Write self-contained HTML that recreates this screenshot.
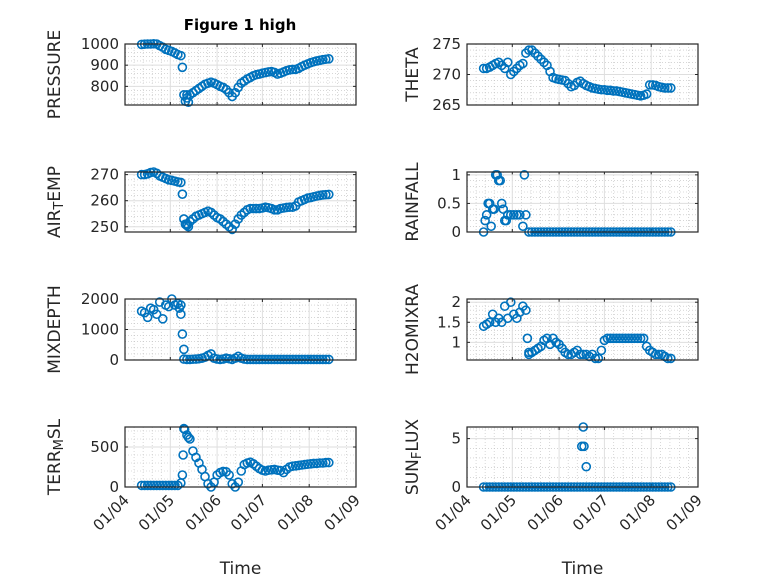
<!DOCTYPE html>
<html><head><meta charset="utf-8"><style>
html,body{margin:0;padding:0;background:#fff;}
svg{display:block;font-family:"DejaVu Sans","Liberation Sans",sans-serif;}
</style></head><body>
<svg id="fig" width="778" height="583" viewBox="0 0 778 583" xmlns="http://www.w3.org/2000/svg">
<rect width="778" height="583" fill="#fff"/>
<text x="240" y="30" text-anchor="middle" font-weight="bold" font-size="15" fill="#000">Figure 1 high</text>
</svg>
<script>
// shared sample days (days since 01/04)
const days = [11,13,15,17,19,21,23,25,27,29,31,33,35,37,39,41,43,45,47,49,51,53,55,57,59,61,63,65,67,69,71,73,75,77,79,81,83,85,87,89,91,93,95,97,99,101,103,105,107,109,111,113,115,117,119,121,123,125,127,129,131,133,135];
const xTickLabels = ["01/04","01/05","01/06","01/07","01/08","01/09"];
const xTickDays = [0,30,61,91,122,153];

const pressureVals = [998,999,1000,1000,1001,1000,992,985,975,970,965,958,950,945,760,745,760,770,780,790,800,810,815,820,815,808,800,795,785,770,752,770,795,815,825,835,842,850,855,858,862,865,868,870,866,858,862,868,874,878,880,880,885,893,900,906,912,916,920,923,926,928,930];
const pressureExtraDays = [38,40,41,42];
const pressureExtraVals = [890,730,760,725];

const thetaVals = [271,271,271.2,271.5,271.8,272,271.5,271,272,270,270.5,271,271.5,271.8,273.5,274,274,273.5,273,272.5,272,271.5,270.5,269.5,269.3,269.2,269.1,269,268.5,268,268.2,268.7,268.9,268.5,268.2,268,267.8,267.7,267.6,267.5,267.5,267.4,267.4,267.3,267.3,267.2,267.1,267,266.9,266.8,266.7,266.6,266.5,266.6,266.8,268.3,268.3,268.2,268,267.9,267.8,267.8,267.8];

const airTempVals = [270,270,270.3,270.8,271,270.5,269.5,269,268.5,268,267.8,267.5,267.2,267,253,251,252,253,254,254.5,255,255.5,256,255.5,254.5,253.5,253,252,251,250,249,251,253,254.5,255.5,256.5,257,257,257,257,257.2,257.5,257.3,257,256.5,256.5,257,257.2,257.4,257.5,257.5,258,259.5,260,260.5,261,261.2,261.5,261.8,262,262.2,262.3,262.4];
const airTempExtraDays = [38,40,41,42];
const airTempExtraVals = [262.5,251,250.5,250];

const rainVals = [0,0.3,0.5,0.4,1.0,0.9,0.5,0.2,0.3,0.3,0.3,0.3,0.3,0.1,0.3,0,0,0,0,0,0,0,0,0,0,0,0,0,0,0,0,0,0,0,0,0,0,0,0,0,0,0,0,0,0,0,0,0,0,0,0,0,0,0,0,0,0,0,0,0,0,0,0];
const rainExtraDays = [12,14,16,18,20,22,24,26,38];
const rainExtraVals = [0.2,0.5,0.1,0.4,1.0,0.9,0.4,0.2,1.0];

const mixVals = [1600,1550,1400,1700,1650,1500,1900,1350,1800,1750,2000,1800,1850,1500,30,20,20,25,30,40,60,90,150,200,60,30,20,30,60,40,20,60,120,60,30,20,20,20,20,20,20,20,20,20,20,20,20,20,20,20,20,20,20,20,20,20,20,20,20,20,20,20,20];
const mixExtraDays = [36,37,38,39];
const mixExtraVals = [1700,1800,850,350];

const h2oVals = [1.4,1.45,1.5,1.7,1.5,1.6,1.5,1.9,1.6,2.0,1.7,1.6,1.75,1.9,1.8,0.75,0.75,0.8,0.85,0.9,1.05,1.1,0.95,1.1,1.0,0.95,0.85,0.75,0.7,0.7,0.75,0.8,0.7,0.7,0.7,0.65,0.7,0.6,0.6,0.8,1.05,1.1,1.1,1.1,1.1,1.1,1.1,1.1,1.1,1.1,1.1,1.1,1.1,1.1,0.9,0.8,0.75,0.7,0.7,0.7,0.65,0.6,0.6];
const h2oExtraDays = [40,41];
const h2oExtraVals = [1.1,0.7];

const terrVals = [20,20,20,20,20,20,20,20,20,20,20,20,20,50,730,650,600,450,370,300,220,130,40,0,60,150,180,195,190,150,40,0,60,200,280,300,310,290,260,230,210,200,210,215,220,210,205,180,220,250,260,265,270,275,280,285,290,295,295,300,300,305,305];
const terrExtraDays = [38,38.5,39.5,42];
const terrExtraVals = [150,400,720,620];

const sunVals = [0,0,0,0,0,0,0,0,0,0,0,0,0,0,0,0,0,0,0,0,0,0,0,0,0,0,0,0,0,0,0,0,0,0,0,0,0,0,0,0,0,0,0,0,0,0,0,0,0,0,0,0,0,0,0,0,0,0,0,0,0,0,0];
const sunExtraDays = [76,77,77.5,79];
const sunExtraVals = [4.2,6.2,4.2,2.1];

const colX = [[125,356],[467,698]];
const rowY = [[44,105],[172,232],[299,360],[427,487]];
const NS = "http://www.w3.org/2000/svg";
const svg = document.getElementById('fig');

function mk(tag, attrs, parent){
  const e = document.createElementNS(NS, tag);
  for (const k in attrs) e.setAttribute(k, attrs[k]);
  (parent||svg).appendChild(e);
  return e;
}

function panel(name, col, row, yMin, yMax, yTicks, yTickLabels, labelParts, vals, exDays, exVals, showX){
  const [x0,x1] = colX[col], [y0,y1] = rowY[row];
  const xs = d => x0 + (d - xTickDays[0]) / (xTickDays[5]-xTickDays[0]) * (x1-x0);
  const ys = v => y1 - (v - yMin)/(yMax - yMin) * (y1-y0);
  const g = mk('g', {});
  
  
  for (let i=0;i<5;i++){
    const a = xTickDays[i], b = xTickDays[i+1];
    for (let k=1;k<5;k++){
      const X = xs(a + (b-a)*k/5);
      const l = mk('line',{x1:X,x2:X,y1:y0,y2:y1,stroke:'#bdbdbd','stroke-width':0.6,'stroke-dasharray':'1,2'},g);
      
      
    }
  }
  const step = yTicks[1]-yTicks[0];
  const ms = step/5;
  for (let v = yTicks[0] - step; v <= yMax; v += ms){
    if (v <= yMin || v >= yMax) continue;
    if (yTicks.some(t => Math.abs(t-v) < ms*0.1)) continue;
    const Y = ys(v);
    const l = mk('line',{x1:x0,x2:x1,y1:Y,y2:Y,stroke:'#bdbdbd','stroke-width':0.6,'stroke-dasharray':'1,2'},g);
    
    
  }
  xTickDays.forEach(d => {
    const X = xs(d);
    const l = mk('line',{x1:X,x2:X,y1:y0,y2:y1,stroke:'#dedede','stroke-width':1},g);
    
    
    const t1 = mk('line',{x1:X,x2:X,y1:y1,y2:y1-3,stroke:'#262626','stroke-width':1},g);
    
    
    const t2 = mk('line',{x1:X,x2:X,y1:y0,y2:y0+3,stroke:'#262626','stroke-width':1},g);
    
    
  });
  yTicks.forEach((v,i) => {
    const Y = ys(v);
    const l = mk('line',{x1:x0,x2:x1,y1:Y,y2:Y,stroke:'#dedede','stroke-width':1},g);
    
    
    const t1 = mk('line',{x1:x0,x2:x0+3,y1:Y,y2:Y,stroke:'#262626','stroke-width':1},g);
    
    
    const t2 = mk('line',{x1:x1,x2:x1-3,y1:Y,y2:Y,stroke:'#262626','stroke-width':1},g);
    
    
    const tx = mk('text',{x:x0-6,y:Y+5,'text-anchor':'end','font-size':15,fill:'#262626'},g);
    
    
    tx.textContent = yTickLabels[i];
  });
  const allD = days.concat(exDays), allV = vals.concat(exVals);
  allD.forEach((d,i) => {
    const c = mk('circle',{cx:xs(d),cy:ys(allV[i]),r:4,fill:'none',stroke:'#0072BD','stroke-width':1.6},g);
    
    
  });
  const bx = mk('rect',{x:x0,y:y0,width:x1-x0,height:y1-y0,fill:'none',stroke:'#262626','stroke-width':1.2},g);
  
  
  const lx = col===0 ? 60 : 418;
  const cy = (y0+y1)/2;
  const lab = mk('text',{x:0,y:0,'text-anchor':'middle','font-size':17,fill:'#262626',transform:`translate(${lx},${cy}) rotate(-90)`},g);
  
  
  labelParts.forEach(p => {
    const ts = mk('tspan',{},lab);
    if (p.sub){ ts.setAttribute('baseline-shift','-25%'); ts.setAttribute('font-size','13'); }
    ts.textContent = p.t;
  });
  if (showX){
    xTickDays.forEach((d,i) => {
      const X = xs(d);
      const tx = mk('text',{x:0,y:0,'text-anchor':'end','font-size':15,fill:'#262626',transform:`translate(${X+5},${y1+14}) rotate(-45)`},g);
      
      
      tx.textContent = xTickLabels[i];
    });
    const xl = mk('text',{x:(x0+x1)/2,y:574,'text-anchor':'middle','font-size':17,fill:'#262626'},g);
    
    
    xl.textContent = 'Time';
  }
}

panel('pressure',0,0,712,1000,[800,900,1000],['800','900','1000'],[{t:'PRESSURE'}],pressureVals,pressureExtraDays,pressureExtraVals,false);
panel('theta',1,0,265,275,[265,270,275],['265','270','275'],[{t:'THETA'}],thetaVals,[],[],false);
panel('air-temp',0,1,248,271,[250,260,270],['250','260','270'],[{t:'AIR'},{t:'T',sub:true},{t:'EMP'}],airTempVals,airTempExtraDays,airTempExtraVals,false);
panel('rainfall',1,1,0,1.05,[0,0.5,1],['0','0.5','1'],[{t:'RAINFALL'}],rainVals,rainExtraDays,rainExtraVals,false);
panel('mixdepth',0,2,0,2000,[0,1000,2000],['0','1000','2000'],[{t:'MIXDEPTH'}],mixVals,mixExtraDays,mixExtraVals,false);
panel('h2omixra',1,2,0.56,2.08,[1,1.5,2],['1','1.5','2'],[{t:'H2OMIXRA'}],h2oVals,h2oExtraDays,h2oExtraVals,false);
panel('terr-msl',0,3,0,750,[0,500],['0','500'],[{t:'TERR'},{t:'M',sub:true},{t:'SL'}],terrVals,terrExtraDays,terrExtraVals,true);
panel('sun-flux',1,3,0,6.2,[0,5],['0','5'],[{t:'SUN'},{t:'F',sub:true},{t:'LUX'}],sunVals,sunExtraDays,sunExtraVals,true);
</script>
</body></html>
